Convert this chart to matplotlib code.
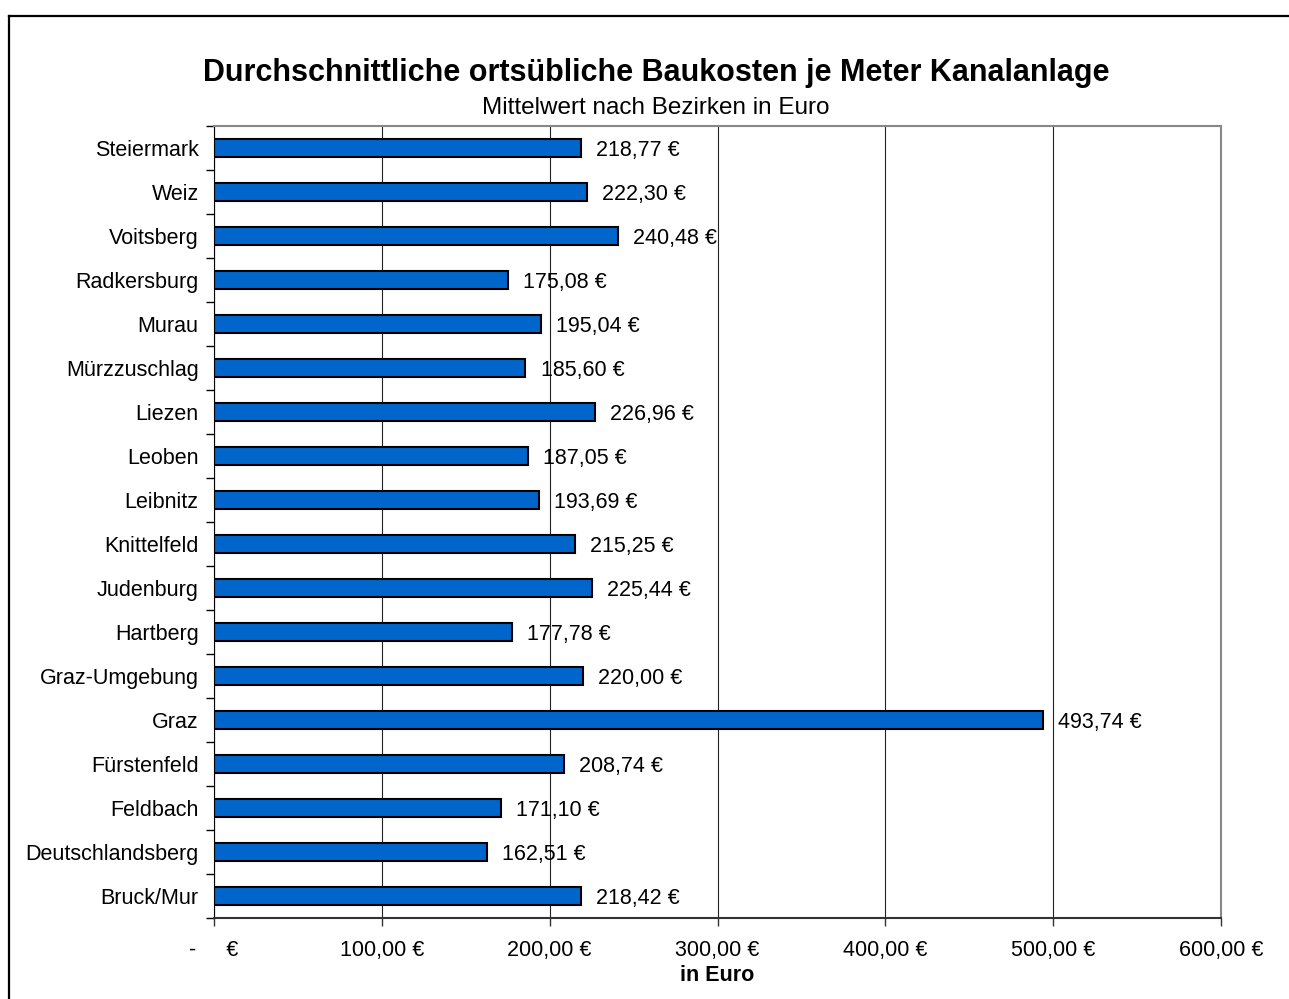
import matplotlib.pyplot as plt
from matplotlib.lines import Line2D
import numpy as np

plt.rcParams['font.family'] = ['Liberation Sans', 'DejaVu Sans']

# districts from bottom to top, as drawn in the chart
bezirke = ['Bruck/Mur', 'Deutschlandsberg', 'Feldbach', 'Fürstenfeld', 'Graz',
           'Graz-Umgebung', 'Hartberg', 'Judenburg', 'Knittelfeld', 'Leibnitz',
           'Leoben', 'Liezen', 'Mürzzuschlag', 'Murau', 'Radkersburg',
           'Voitsberg', 'Weiz', 'Steiermark']
kosten = [218.42, 162.51, 171.10, 208.74, 493.74,
          220.00, 177.78, 225.44, 215.25, 193.69,
          187.05, 226.96, 185.60, 195.04, 175.08,
          240.48, 222.30, 218.77]
xticks = [0, 100, 200, 300, 400, 500, 600]
xticklabels = ['-     €', '100,00 €', '200,00 €', '300,00 €', '400,00 €', '500,00 €', '600,00 €']

FS = 15.5
W, H = 1289, 999
fig = plt.figure(figsize=(W / 100, H / 100), dpi=100)
ax = fig.add_axes([214 / W, 1 - 918 / H, (1221 - 214) / W, (918 - 126) / H])

y = np.arange(len(bezirke))
ax.barh(y, kosten, height=0.41, color='#0066CC', edgecolor='black', linewidth=1.5, zorder=2)

for yi, v in zip(y, kosten):
    txt = f'{v:.2f}'.replace('.', ',') + ' €'
    ax.text(v + 9.0, yi, txt, va='center_baseline', ha='left', fontsize=FS, zorder=3)

ax.set_xlim(0, 600)
ax.set_ylim(-0.5, len(bezirke) - 0.5)
ax.set_xticks(xticks)
ax.set_xticklabels(xticklabels, fontsize=FS)
ax.tick_params(axis='x', direction='out', length=6, width=1, pad=10, color='#333333')
ax.xaxis.grid(True, color='#222222', linewidth=0.8, zorder=0)
ax.set_axisbelow(True)

ax.set_yticks(np.arange(-0.5, len(bezirke), 1.0))
ax.set_yticklabels([])
ax.set_yticks(y, minor=True)
ax.set_yticklabels(bezirke, minor=True, fontsize=FS)
ax.tick_params(axis='y', which='major', direction='out', length=6, width=1)
ax.tick_params(axis='y', which='minor', length=0, pad=11)

ax.spines['top'].set_color('#888888')
ax.spines['right'].set_color('#888888')
ax.spines['top'].set_linewidth(1.5)
ax.spines['right'].set_linewidth(1.5)
ax.spines['left'].set_color('black')
ax.spines['bottom'].set_color('#333333')
ax.spines['bottom'].set_linewidth(1.5)

ax.set_xlabel('in Euro', fontsize=FS, fontweight='bold', labelpad=0)
ax.xaxis.set_label_coords(0.5, -0.059)

fig.text(656 / W, 1 - 73 / H, 'Durchschnittliche ortsübliche Baukosten je Meter Kanalanlage',
         ha='center', va='center', fontsize=22, fontweight='bold')
fig.text(656 / W, 1 - 108 / H, 'Mittelwert nach Bezirken in Euro',
         ha='center', va='center', fontsize=17.5)

# outer chart border (cut off at right and bottom edge)
fig.add_artist(Line2D([9 / W, 9 / W], [0, 1 - 16 / H], color='black', linewidth=1.6,
                      transform=fig.transFigure))
fig.add_artist(Line2D([9 / W, 1], [1 - 16 / H, 1 - 16 / H], color='black', linewidth=1.6,
                      transform=fig.transFigure))

fig.savefig('out.png', dpi=100)
